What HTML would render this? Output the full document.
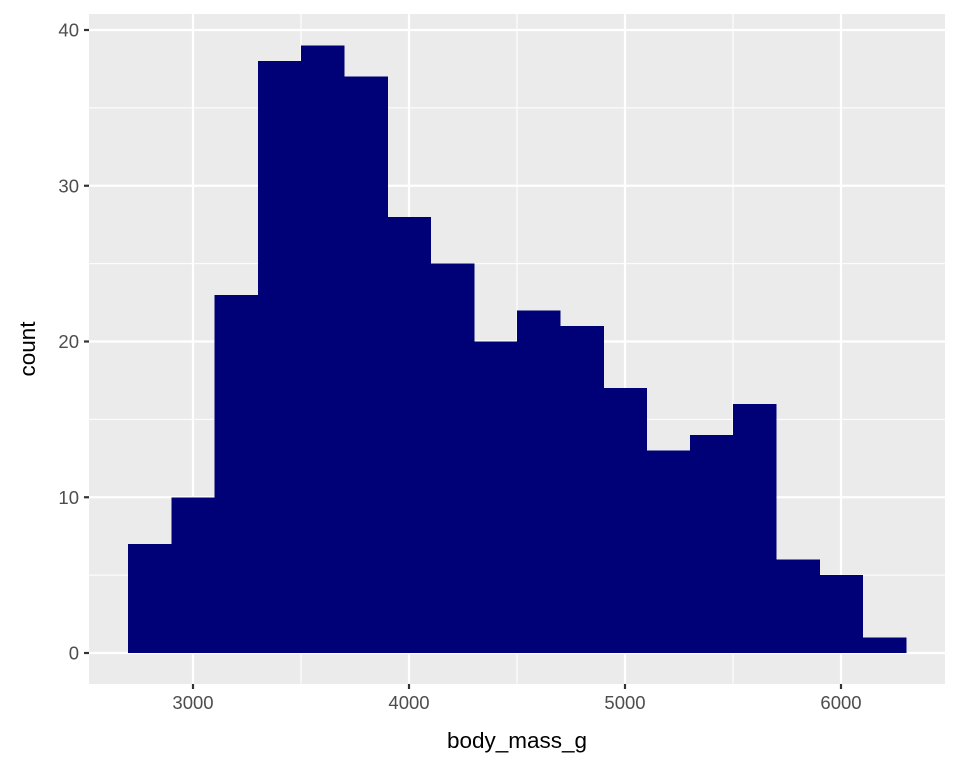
<!DOCTYPE html>
<html><head><meta charset="utf-8"><style>
body{margin:0;background:#fff;}
svg{display:block;font-family:"Liberation Sans",Arial,sans-serif;}
</style></head><body>
<svg id="chart" width="960" height="768" viewBox="0 0 960 768" xmlns="http://www.w3.org/2000/svg">
<rect x="89" y="14" width="856" height="670" fill="#ebebeb"/>
<g id="grid"></g>
<g id="bars" shape-rendering="crispEdges"></g>
<g id="axes"></g>
<text x="517" y="748" text-anchor="middle" font-size="22.5" fill="#000">body_mass_g</text>
<text transform="translate(35,349) rotate(-90)" text-anchor="middle" font-size="22.5" fill="#000">count</text>
</svg>
<script>
const binStarts = [2700,2900,3100,3300,3500,3700,3900,4100,4300,4500,4700,4900,5100,5300,5500,5700,5900,6100];
const counts = [7,10,23,38,39,37,28,25,20,22,21,17,13,14,16,6,5,1];
const binWidth = 200;
const xTicks = [3000,4000,5000,6000];
const xMinor = [2500,3500,4500,5500,6500];
const yTicks = [0,10,20,30,40];
const yMinor = [5,15,25,35];

const NS="http://www.w3.org/2000/svg";
const X=v=>193+(v-3000)*0.216;
const Y=v=>653-v*15.575;
const PL=89,PR=945,PT=14,PB=684;
function mk(tag,attrs,parent){const e=document.createElementNS(NS,tag);for(const k in attrs)e.setAttribute(k,attrs[k]);parent.appendChild(e);return e;}
const grid=document.getElementById('grid'),bars=document.getElementById('bars'),axes=document.getElementById('axes');
yMinor.forEach(v=>{const l=mk('line',{x1:PL,x2:PR,y1:Y(v),y2:Y(v),stroke:'#fff','stroke-width':1.1},grid);

});
xMinor.forEach(v=>{if(X(v)<PL||X(v)>PR)return;const l=mk('line',{x1:X(v),x2:X(v),y1:PT,y2:PB,stroke:'#fff','stroke-width':1.1},grid);

});
yTicks.forEach(v=>{const l=mk('line',{x1:PL,x2:PR,y1:Y(v),y2:Y(v),stroke:'#fff','stroke-width':2.2},grid);


const t=mk('line',{x1:PL-5,x2:PL,y1:Y(v),y2:Y(v),stroke:'#333','stroke-width':2.2},axes);


const tx=mk('text',{x:PL-10,y:Y(v)+6.5,'text-anchor':'end','font-size':18.5,fill:'#4d4d4d'},axes);tx.textContent=v;

});
xTicks.forEach(v=>{const l=mk('line',{x1:X(v),x2:X(v),y1:PT,y2:PB,stroke:'#fff','stroke-width':2.2},grid);


const t=mk('line',{x1:X(v),x2:X(v),y1:PB,y2:PB+5,stroke:'#333','stroke-width':2.2},axes);


const tx=mk('text',{x:X(v),y:PB+25,'text-anchor':'middle','font-size':18.5,fill:'#4d4d4d'},axes);tx.textContent=v;

});
binStarts.forEach((s,i)=>{const x0=X(s),x1=X(s+binWidth);const r=mk('rect',{x:x0,y:Y(counts[i]),width:x1-x0+0.5,height:Y(0)-Y(counts[i]),fill:'#000077'},bars);

});
</script>
</body></html>
